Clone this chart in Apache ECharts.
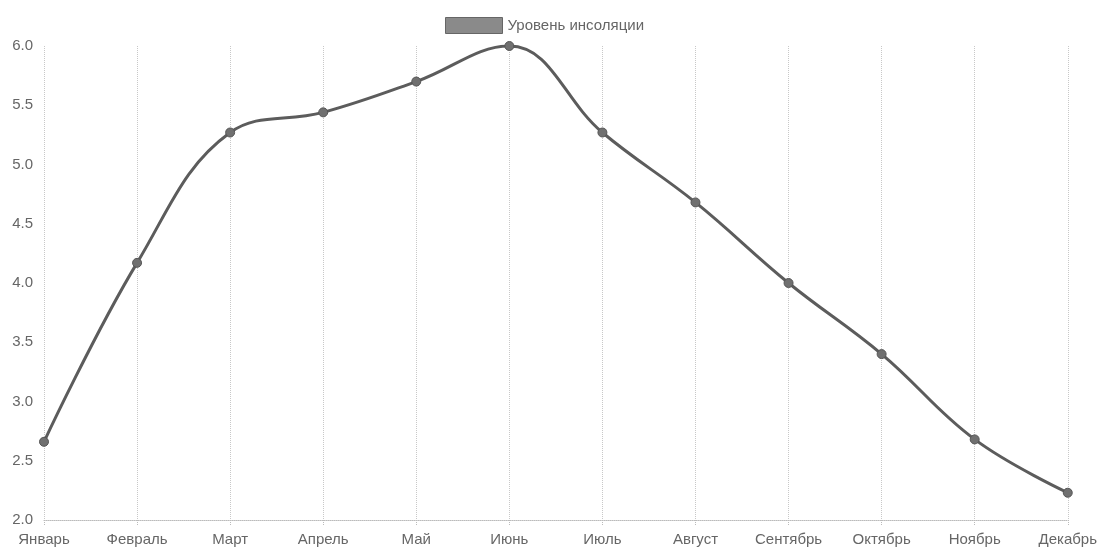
<!DOCTYPE html>
<html>
<head>
<meta charset="utf-8">
<script src="https://cdn.jsdelivr.net/npm/echarts@6/dist/echarts.min.js"></script>
<style>
html,body{margin:0;padding:0;background:#fff;}
#chart{width:1100px;height:547px;}
</style>
</head>
<body>
<div id="chart"></div>
<script>
// Months and average insolation values
const months = ['Январь','Февраль','Март','Апрель','Май','Июнь','Июль','Август','Сентябрь','Октябрь','Ноябрь','Декабрь'];
const insolation = [2.66, 4.17, 5.27, 5.44, 5.70, 6.0, 5.27, 4.68, 4.0, 3.40, 2.68, 2.23];
const seriesName = 'Уровень инсоляции';

const chart = echarts.init(document.getElementById('chart'));
chart.setOption({
  animation: false,
  textStyle: { fontFamily: 'Liberation Sans, Arial, sans-serif' },
  legend: {
    top: 12,
    left: 440,
    itemWidth: 57,
    itemHeight: 16,
    icon: 'rect',
    itemGap: 10,
    textStyle: { color: '#666', fontSize: 15 },
    data: [{ name: seriesName, itemStyle: { color: '#8a8a8a', borderColor: '#666', borderWidth: 1 } }]
  },
  grid: { left: 44, right: 28, top: 46, bottom: 27, containLabel: false },
  xAxis: {
    type: 'category',
    data: months,
    boundaryGap: false,
    axisLine: { show: true, lineStyle: { color: '#bbb', type: 'dotted', width: 1 } },
    axisTick: { show: true, alignWithLabel: true, length: 6, lineStyle: { color: '#bbb', type: 'dotted' } },
    axisLabel: { color: '#666', fontSize: 15, margin: 12 },
    splitLine: { show: true, lineStyle: { color: '#c8c8c8', type: 'dotted', width: 1 } }
  },
  yAxis: {
    type: 'value',
    min: 2,
    max: 6,
    interval: 0.5,
    axisLine: { show: false },
    axisTick: { show: false },
    axisLabel: { color: '#666', fontSize: 15, margin: 11, formatter: v => v.toFixed(1) },
    splitLine: { show: false }
  },
  series: [{
    name: seriesName,
    type: 'line',
    data: insolation,
    smooth: 0.4,
    symbol: 'circle',
    symbolSize: 9,
    lineStyle: { color: '#5c5c5c', width: 3 },
    itemStyle: { color: '#707070', borderColor: '#555', borderWidth: 1 }
  }]
});
</script>
</body>
</html>
